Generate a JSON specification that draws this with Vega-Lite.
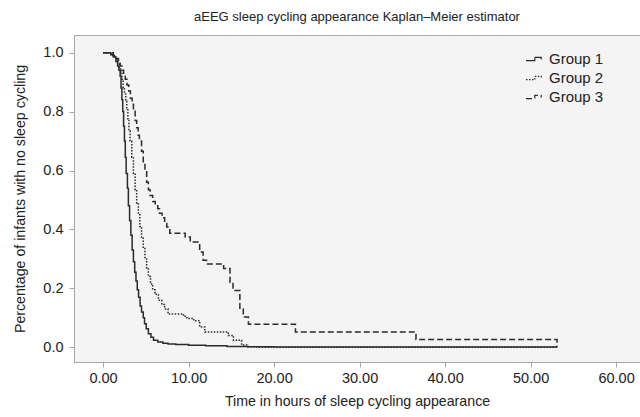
{
  "$schema": "https://vega.github.io/schema/vega-lite/v6.json",
  "autosize": "none",
  "padding": {"left": 74, "top": 35, "right": 0, "bottom": 55},
  "width": 566,
  "height": 327,
  "background": "white",
  "config": {
    "font": "Liberation Sans",
    "view": {"fill": "#f4f4f4", "stroke": "#a8a8a8", "strokeWidth": 1}
  },
  "title": {
    "text": "aEEG sleep cycling appearance Kaplan–Meier estimator",
    "fontSize": 13,
    "fontWeight": "normal",
    "color": "#222",
    "anchor": "middle",
    "offset": 11
  },
  "datasets": {
    "km": [
      {"g": "Group 1", "t": 0, "s": 1.0},
      {"g": "Group 1", "t": 0.9, "s": 0.993},
      {"g": "Group 1", "t": 1.2, "s": 0.985},
      {"g": "Group 1", "t": 1.5, "s": 0.97},
      {"g": "Group 1", "t": 1.7, "s": 0.955},
      {"g": "Group 1", "t": 1.85, "s": 0.94},
      {"g": "Group 1", "t": 2.0, "s": 0.92},
      {"g": "Group 1", "t": 2.1, "s": 0.88},
      {"g": "Group 1", "t": 2.2, "s": 0.84},
      {"g": "Group 1", "t": 2.3, "s": 0.8},
      {"g": "Group 1", "t": 2.4, "s": 0.75},
      {"g": "Group 1", "t": 2.5, "s": 0.7},
      {"g": "Group 1", "t": 2.6, "s": 0.645},
      {"g": "Group 1", "t": 2.7, "s": 0.59},
      {"g": "Group 1", "t": 2.85, "s": 0.54},
      {"g": "Group 1", "t": 2.96, "s": 0.48},
      {"g": "Group 1", "t": 3.1, "s": 0.43},
      {"g": "Group 1", "t": 3.25, "s": 0.38},
      {"g": "Group 1", "t": 3.4, "s": 0.33},
      {"g": "Group 1", "t": 3.55, "s": 0.29},
      {"g": "Group 1", "t": 3.7, "s": 0.255},
      {"g": "Group 1", "t": 3.85, "s": 0.225},
      {"g": "Group 1", "t": 4.0, "s": 0.195},
      {"g": "Group 1", "t": 4.15, "s": 0.17},
      {"g": "Group 1", "t": 4.33, "s": 0.14},
      {"g": "Group 1", "t": 4.5, "s": 0.12},
      {"g": "Group 1", "t": 4.7, "s": 0.1},
      {"g": "Group 1", "t": 4.85, "s": 0.08},
      {"g": "Group 1", "t": 5.05, "s": 0.063},
      {"g": "Group 1", "t": 5.3, "s": 0.046},
      {"g": "Group 1", "t": 5.6, "s": 0.034},
      {"g": "Group 1", "t": 5.9, "s": 0.024},
      {"g": "Group 1", "t": 6.4, "s": 0.018},
      {"g": "Group 1", "t": 7.0, "s": 0.014},
      {"g": "Group 1", "t": 7.6, "s": 0.011},
      {"g": "Group 1", "t": 8.5, "s": 0.009},
      {"g": "Group 1", "t": 10.0, "s": 0.007},
      {"g": "Group 1", "t": 12.0, "s": 0.005},
      {"g": "Group 1", "t": 14.5, "s": 0.003},
      {"g": "Group 1", "t": 17.0, "s": 0.002},
      {"g": "Group 1", "t": 20.0, "s": 0.001},
      {"g": "Group 1", "t": 53.1, "s": 0.001},
      {"g": "Group 2", "t": 0, "s": 1.0},
      {"g": "Group 2", "t": 1.0, "s": 0.99},
      {"g": "Group 2", "t": 1.4, "s": 0.98},
      {"g": "Group 2", "t": 1.7, "s": 0.965},
      {"g": "Group 2", "t": 1.9, "s": 0.95},
      {"g": "Group 2", "t": 2.05, "s": 0.935},
      {"g": "Group 2", "t": 2.2, "s": 0.91},
      {"g": "Group 2", "t": 2.35, "s": 0.88},
      {"g": "Group 2", "t": 2.5, "s": 0.86},
      {"g": "Group 2", "t": 2.65, "s": 0.835},
      {"g": "Group 2", "t": 2.77, "s": 0.81},
      {"g": "Group 2", "t": 2.9, "s": 0.77},
      {"g": "Group 2", "t": 3.02, "s": 0.735},
      {"g": "Group 2", "t": 3.16, "s": 0.7},
      {"g": "Group 2", "t": 3.35, "s": 0.645},
      {"g": "Group 2", "t": 3.55, "s": 0.59},
      {"g": "Group 2", "t": 3.75, "s": 0.535},
      {"g": "Group 2", "t": 3.93, "s": 0.49},
      {"g": "Group 2", "t": 4.13, "s": 0.45},
      {"g": "Group 2", "t": 4.3, "s": 0.41},
      {"g": "Group 2", "t": 4.5, "s": 0.37},
      {"g": "Group 2", "t": 4.7, "s": 0.335},
      {"g": "Group 2", "t": 4.9, "s": 0.3},
      {"g": "Group 2", "t": 5.1, "s": 0.27},
      {"g": "Group 2", "t": 5.3, "s": 0.24},
      {"g": "Group 2", "t": 5.55, "s": 0.215},
      {"g": "Group 2", "t": 5.8, "s": 0.195},
      {"g": "Group 2", "t": 6.08, "s": 0.18},
      {"g": "Group 2", "t": 6.47, "s": 0.16},
      {"g": "Group 2", "t": 6.86, "s": 0.145},
      {"g": "Group 2", "t": 7.2, "s": 0.13},
      {"g": "Group 2", "t": 7.6, "s": 0.113},
      {"g": "Group 2", "t": 9.4, "s": 0.105},
      {"g": "Group 2", "t": 9.8, "s": 0.098},
      {"g": "Group 2", "t": 10.6, "s": 0.09},
      {"g": "Group 2", "t": 11.3, "s": 0.069},
      {"g": "Group 2", "t": 11.9, "s": 0.052},
      {"g": "Group 2", "t": 14.65, "s": 0.04},
      {"g": "Group 2", "t": 15.25, "s": 0.024},
      {"g": "Group 2", "t": 16.2, "s": 0.008},
      {"g": "Group 2", "t": 16.8, "s": 0.002},
      {"g": "Group 2", "t": 18.0, "s": 0.0},
      {"g": "Group 2", "t": 53.1, "s": 0.0},
      {"g": "Group 3", "t": 0, "s": 1.0},
      {"g": "Group 3", "t": 1.2, "s": 0.99},
      {"g": "Group 3", "t": 1.5, "s": 0.98},
      {"g": "Group 3", "t": 1.8, "s": 0.97},
      {"g": "Group 3", "t": 2.0, "s": 0.955},
      {"g": "Group 3", "t": 2.2, "s": 0.94},
      {"g": "Group 3", "t": 2.4, "s": 0.93},
      {"g": "Group 3", "t": 2.6, "s": 0.91},
      {"g": "Group 3", "t": 2.8, "s": 0.89},
      {"g": "Group 3", "t": 3.0, "s": 0.87},
      {"g": "Group 3", "t": 3.2, "s": 0.845},
      {"g": "Group 3", "t": 3.4, "s": 0.825},
      {"g": "Group 3", "t": 3.55, "s": 0.81},
      {"g": "Group 3", "t": 3.75, "s": 0.77},
      {"g": "Group 3", "t": 3.93, "s": 0.745},
      {"g": "Group 3", "t": 4.1, "s": 0.72},
      {"g": "Group 3", "t": 4.25, "s": 0.7},
      {"g": "Group 3", "t": 4.5, "s": 0.665},
      {"g": "Group 3", "t": 4.7, "s": 0.63},
      {"g": "Group 3", "t": 4.9, "s": 0.6},
      {"g": "Group 3", "t": 5.1, "s": 0.56},
      {"g": "Group 3", "t": 5.3, "s": 0.535},
      {"g": "Group 3", "t": 5.5, "s": 0.515},
      {"g": "Group 3", "t": 5.8, "s": 0.495},
      {"g": "Group 3", "t": 6.1, "s": 0.48},
      {"g": "Group 3", "t": 6.4, "s": 0.47},
      {"g": "Group 3", "t": 6.6, "s": 0.455},
      {"g": "Group 3", "t": 6.9, "s": 0.44},
      {"g": "Group 3", "t": 7.2, "s": 0.42},
      {"g": "Group 3", "t": 7.45, "s": 0.408},
      {"g": "Group 3", "t": 7.8, "s": 0.387},
      {"g": "Group 3", "t": 9.6, "s": 0.374},
      {"g": "Group 3", "t": 10.2, "s": 0.357},
      {"g": "Group 3", "t": 11.3, "s": 0.323},
      {"g": "Group 3", "t": 11.7, "s": 0.295},
      {"g": "Group 3", "t": 12.1, "s": 0.283},
      {"g": "Group 3", "t": 14.1, "s": 0.267},
      {"g": "Group 3", "t": 14.85, "s": 0.22},
      {"g": "Group 3", "t": 15.2, "s": 0.193},
      {"g": "Group 3", "t": 16.0, "s": 0.13},
      {"g": "Group 3", "t": 16.4, "s": 0.103},
      {"g": "Group 3", "t": 17.0, "s": 0.078},
      {"g": "Group 3", "t": 22.5, "s": 0.052},
      {"g": "Group 3", "t": 36.6, "s": 0.026},
      {"g": "Group 3", "t": 53.1, "s": 0.0}
    ]
  },
  "data": {"name": "km"},
  "mark": {"type": "line", "interpolate": "step-after", "strokeWidth": 1.5, "color": "#2a2a2a", "clip": true},
  "encoding": {
    "x": {
      "field": "t",
      "type": "quantitative",
      "scale": {"domain": [-3.4, 62.8], "nice": false, "zero": false},
      "axis": {
        "values": [0, 10, 20, 30, 40, 50, 60],
        "format": ".2f",
        "title": "Time in hours of sleep cycling appearance",
        "grid": false,
        "domainColor": "#a8a8a8",
        "tickColor": "#a8a8a8",
        "tickSize": 5,
        "labelFontSize": 14.5,
        "labelColor": "#222",
        "labelPadding": 4,
        "titleFontSize": 14.2,
        "titleFontWeight": "normal",
        "titleColor": "#222",
        "titlePadding": 10
      }
    },
    "y": {
      "field": "s",
      "type": "quantitative",
      "scale": {"domain": [-0.05, 1.06], "nice": false, "zero": false},
      "axis": {
        "values": [0, 0.2, 0.4, 0.6, 0.8, 1.0],
        "format": ".1f",
        "title": "Percentage of infants with no sleep cycling",
        "grid": false,
        "domainColor": "#a8a8a8",
        "tickColor": "#a8a8a8",
        "tickSize": 5,
        "labelFontSize": 14.5,
        "labelColor": "#222",
        "labelPadding": 6,
        "titleFontSize": 14.2,
        "titleFontWeight": "normal",
        "titleColor": "#222",
        "titlePadding": 15
      }
    },
    "strokeDash": {
      "field": "g",
      "type": "nominal",
      "scale": {"domain": ["Group 1", "Group 2", "Group 3"], "range": [[1, 0], [1.5, 1.5], [6, 3]]},
      "legend": {
        "title": null,
        "orient": "none",
        "legendX": 451,
        "legendY": 15,
        "symbolType": "M-1,0.2H0.1V-0.2H0.9V0.05",
        "symbolSize": 256,
        "symbolStrokeColor": "#2a2a2a",
        "symbolStrokeWidth": 1.2,
        "symbolFillColor": "transparent",
        "labelFontSize": 15,
        "labelColor": "#222",
        "labelOffset": 6,
        "rowPadding": 2
      }
    }
  }
}
